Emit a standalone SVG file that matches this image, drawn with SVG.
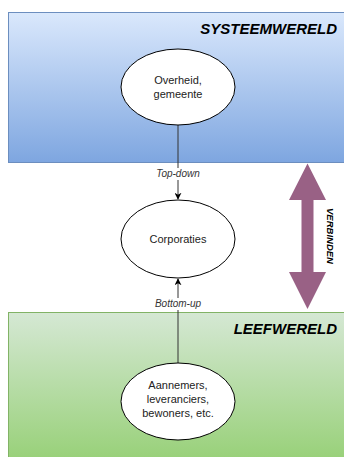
<svg xmlns="http://www.w3.org/2000/svg" width="344" height="457" viewBox="0 0 344 457">
<defs>
<linearGradient id="gBlue" x1="0" y1="0" x2="0" y2="1"><stop offset="0" stop-color="#dae8fc"/><stop offset="1" stop-color="#7ea6e0"/></linearGradient>
<linearGradient id="gGreen" x1="0" y1="0" x2="0" y2="1"><stop offset="0" stop-color="#d5e8d4"/><stop offset="1" stop-color="#97d077"/></linearGradient>
<marker id="arr" viewBox="0 0 10 10" refX="9" refY="5" markerWidth="7" markerHeight="7" orient="auto" markerUnits="userSpaceOnUse"><path d="M0,0 L10,5 L0,10 L3,5 Z" fill="#000"/></marker>
</defs>
<style>
.node{fill:#fff;stroke:#000;stroke-width:1}
.t{font-family:"Liberation Sans",Arial,sans-serif;font-size:11px;fill:#222;text-anchor:middle}
.lbl{font-family:"Liberation Sans",Arial,sans-serif;font-size:10px;font-style:italic;fill:#333;text-anchor:middle}
.title{font-family:"Liberation Sans",Arial,sans-serif;font-size:15px;font-weight:bold;font-style:italic;fill:#000;text-anchor:end}
.edge{stroke:#333;stroke-width:1;fill:none}
</style>
<g id="systeemwereld">
<rect x="8.5" y="12.5" width="340" height="150" fill="url(#gBlue)" stroke="#6c8ebf"/>
<text class="title" x="337" y="34">SYSTEEMWERELD</text>
</g>
<g id="leefwereld">
<rect x="8.5" y="312.5" width="340" height="150" fill="url(#gGreen)" stroke="#82b366"/>
<text class="title" x="337" y="334">LEEFWERELD</text>
</g>
<g id="connectors">
<line class="edge" x1="178" y1="125" x2="178" y2="199" marker-end="url(#arr)"/>
<rect x="150" y="168" width="56" height="12" fill="#fff"/>
<text class="lbl" x="178" y="177">Top-down</text>
<line class="edge" x1="178" y1="363" x2="178" y2="279" marker-end="url(#arr)"/>
<rect x="148" y="298" width="60" height="12" fill="#fff"/>
<text class="lbl" x="178" y="307">Bottom-up</text>
</g>
<g id="verbinden">
<path d="M307.5,163.5 L326,200 L313.5,200 L313.5,272 L326,272 L307.5,309 L289,272 L301.5,272 L301.5,200 L289,200 Z" fill="#996185"/>
<text transform="translate(327,236) rotate(90)" font-family="Liberation Sans,Arial,sans-serif" font-size="9.5" font-weight="bold" font-style="italic" text-anchor="middle" fill="#000">VERBINDEN</text>
</g>
<g id="overheid">
<ellipse class="node" cx="178" cy="87" rx="57" ry="38"/>
<text class="t" x="178" y="84">Overheid,</text>
<text class="t" x="178" y="98">gemeente</text>
</g>
<g id="corporaties">
<ellipse class="node" cx="178" cy="239" rx="57" ry="39"/>
<text class="t" x="178" y="243">Corporaties</text>
</g>
<g id="aannemers">
<ellipse class="node" cx="178" cy="401.5" rx="57" ry="38.5"/>
<text class="t" x="178" y="389">Aannemers,</text>
<text class="t" x="178" y="403">leveranciers,</text>
<text class="t" x="178" y="417">bewoners, etc.</text>
</g>
</svg>
